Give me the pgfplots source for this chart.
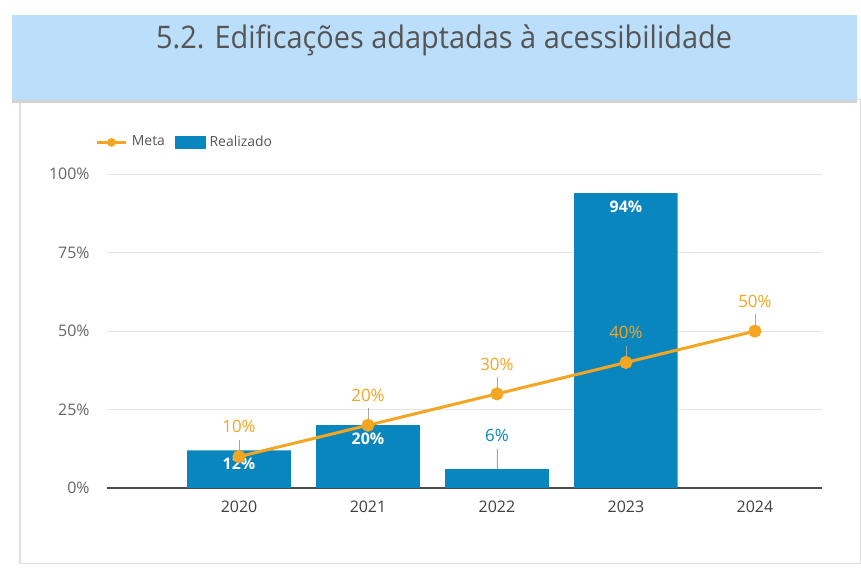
\documentclass[border=0pt]{standalone}
\usepackage{fontspec}
\setmainfont{Open Sans}
\newfontfamily\titlefont[FakeStretch=0.93]{Open Sans}
\usepackage{pgfplots}
\pgfplotsset{compat=1.18}
\definecolor{barblue}{HTML}{0A86BF}
\definecolor{metaorange}{HTML}{F4A622}
\definecolor{headblue}{HTML}{BBDEFB}
\definecolor{txtgray}{HTML}{555555}
\begin{document}
\begin{tikzpicture}
% canvas 861x570 px at 0.5pt per px
\path[fill=white] (0,0) rectangle (430.5pt,285pt);
\draw[gray!25, line width=0.6pt] (10pt,2pt) rectangle (432pt,235pt);
\fill[gray!35] (6pt,233.5pt) rectangle (430.5pt,235pt);
\fill[headblue] (6pt,235pt) rectangle (430.5pt,277.5pt);
\node[text=txtgray, font=\titlefont\fontsize{15.6}{18}\selectfont] at (223pt,265pt)
  {5.2. Edificações adaptadas à acessibilidade};

\begin{axis}[
  at={(53.5pt,40pt)}, anchor=south west,
  scale only axis, width=359pt, height=157.5pt,
  xmin=-1.027, xmax=4.517, ymin=0, ymax=100,
  xtick={0,1,2,3,4}, xticklabels={2020,2021,2022,2023,2024},
  ytick={0,25,50,75,100},
  yticklabel={\pgfmathprintnumber{\tick}\%},
  /pgf/number format/assume math mode=true,
  ymajorgrids, major grid style={gray!22, line width=0.6pt},
  axis x line*=bottom, axis y line*=left,
  x axis line style={draw=black!70, line width=0.7pt, -},
  y axis line style={draw=none},
  major tick length=0pt,
  tick label style={font=\fontsize{8}{9}\selectfont},
  xticklabel style={text=black!75, yshift=-3pt},
  yticklabel style={text=black!60, xshift=-5pt},
  legend style={at={(-0.025,1.15)}, anchor=north west, draw=none, fill=none,
    font=\fontsize{7}{8}\selectfont, text=txtgray,
    /tikz/every even column/.append style={column sep=3pt}},
  legend columns=2,
  clip=false,
]
\addlegendimage{legend image code/.code={
  \draw[metaorange, line width=1.5pt] (0pt,0pt) -- (15pt,0pt);
  \fill[metaorange] (7.5pt,0pt) circle (2pt);}}
\addlegendentry{Meta}
\addlegendimage{legend image code/.code={\fill[barblue] (0pt,-3pt) rectangle (15pt,3pt);}}
\addlegendentry{Realizado}

% Realizado: labels inside the bar
\addplot[ybar, bar width=52pt, bar shift=0pt, fill=barblue, draw=none, forget plot,
  nodes near coords={\pgfmathprintnumber{\pgfplotspointmeta}\%},
  every node near coord/.append style={text=white, anchor=center, yshift=-7pt,
    font=\bfseries\fontsize{8}{9}\selectfont}]
  coordinates {(0,12) (1,20) (3,94)};
% Realizado: label above the bar
\addplot[ybar, bar width=52pt, bar shift=0pt, fill=barblue, draw=none, forget plot,
  error bars/.cd, y dir=plus, y explicit, error mark=none,
  error bar style={gray!70, line width=0.4pt}]
  coordinates {(2,6) +- (0,6.5)};
\addplot[only marks, mark=none, forget plot,
  nodes near coords={\pgfmathprintnumber{\pgfplotspointmeta}\%},
  every node near coord/.append style={text=barblue, anchor=center, yshift=17pt,
    font=\fontsize{8.5}{10}\selectfont}]
  coordinates {(2,6)};

% Meta
\addplot[metaorange, line width=1.5pt, mark=*, mark size=2.5pt, forget plot,
  error bars/.cd, y dir=plus, y explicit, error mark=none,
  error bar style={gray!70, line width=0.4pt}]
  coordinates {(0,10) +- (0,5.4) (1,20) +- (0,5.4) (2,30) +- (0,5.4)
               (3,40) +- (0,5.4) (4,50) +- (0,5.4)};
\addplot[only marks, mark=none, forget plot,
  nodes near coords={\pgfmathprintnumber{\pgfplotspointmeta}\%},
  every node near coord/.append style={text=metaorange, anchor=center, yshift=15pt,
    font=\fontsize{8.5}{10}\selectfont}]
  coordinates {(0,10) (1,20) (2,30) (3,40) (4,50)};
\end{axis}
\end{tikzpicture}
\end{document}
